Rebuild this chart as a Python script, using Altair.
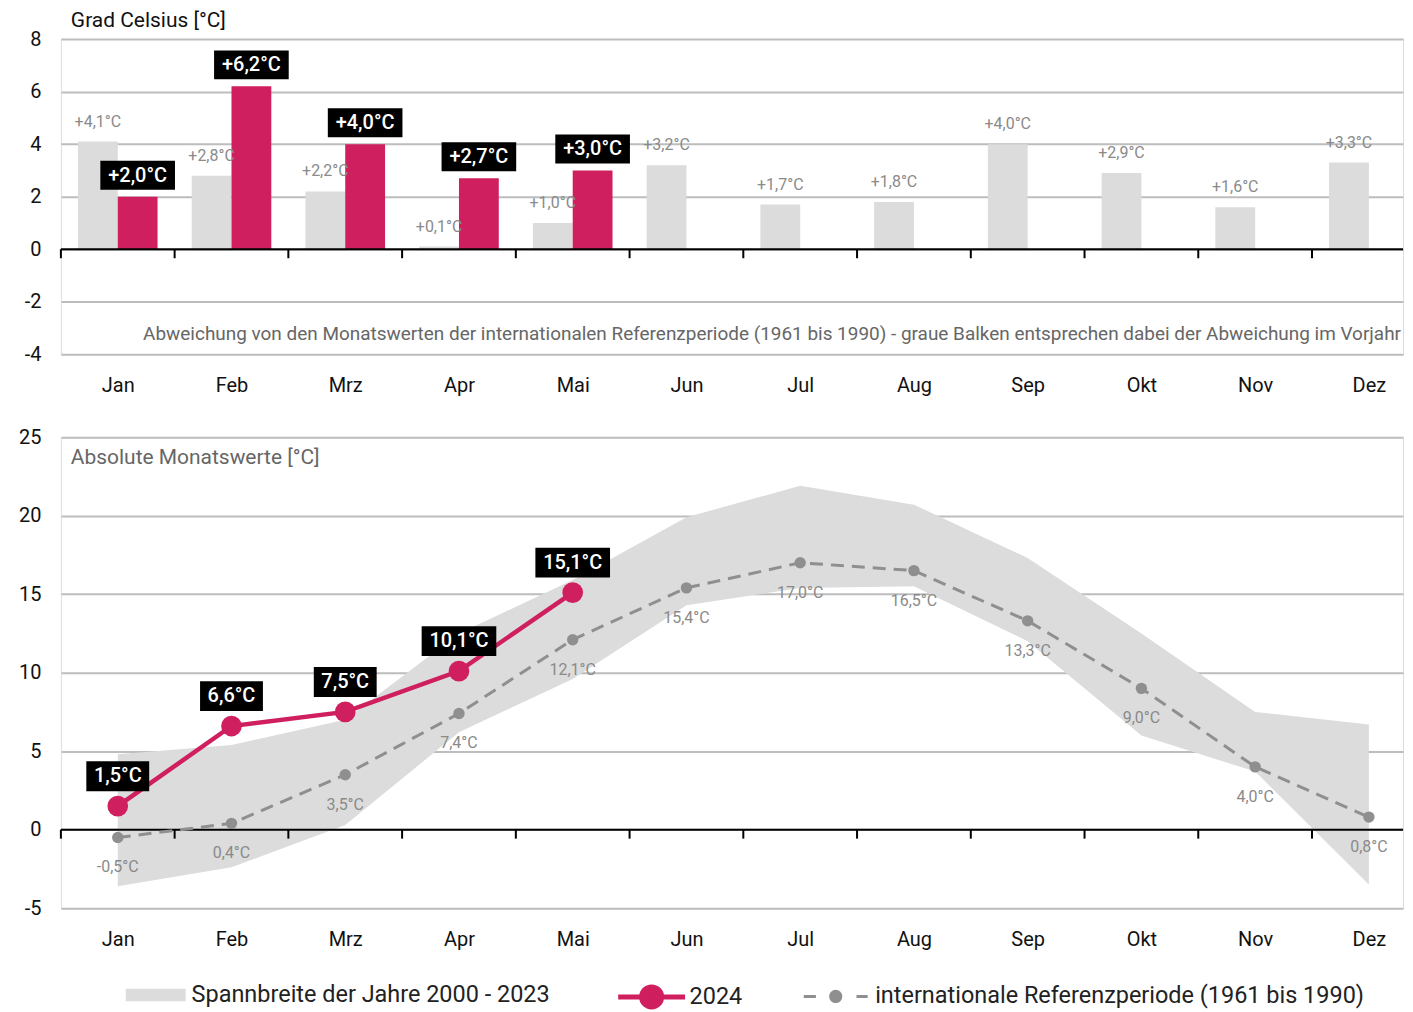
import altair as alt
import pandas as pd

# ---------------- data ----------------
months = ["Jan", "Feb", "Mrz", "Apr", "Mai", "Jun", "Jul", "Aug", "Sep", "Okt", "Nov", "Dez"]
dev_prev_year = [4.1, 2.8, 2.2, 0.1, 1.0, 3.2, 1.7, 1.8, 4.0, 2.9, 1.6, 3.3]
dev_2024 = [2.0, 6.2, 4.0, 2.7, 3.0]
abs_2024 = [1.5, 6.6, 7.5, 10.1, 15.1]
ref_1961_1990 = [-0.5, 0.4, 3.5, 7.4, 12.1, 15.4, 17.0, 16.5, 13.3, 9.0, 4.0, 0.8]
range_low = [-3.6, -2.4, 0.3, 6.2, 9.6, 14.3, 15.4, 15.5, 12.0, 6.0, 3.7, -3.5]
range_high = [4.8, 5.4, 7.0, 12.5, 15.9, 19.9, 21.9, 20.7, 17.3, 12.5, 7.5, 6.7]
top_ticks = [-4, -2, 0, 2, 4, 6, 8]
bottom_ticks = [-5, 0, 5, 10, 15, 20, 25]

NAME_BAND = "Spannbreite der Jahre 2000 - 2023"
NAME_2024 = "2024"
NAME_REF = "internationale Referenzperiode (1961 bis 1990)"
TITLE_TOP = "Grad Celsius [°C]"
NOTE_TOP = ("Abweichung von den Monatswerten der internationalen Referenzperiode (1961 bis 1990) - "
            "graue  Balken entsprechen dabei der Abweichung im Vorjahr")
NOTE_BOTTOM = "Absolute Monatswerte [°C]"

# ---------------- style ----------------
FONT = "Roboto"
PINK = "#cf1f5e"
BAR_GRAY = "#dcdcdc"
REF_GRAY = "#8f8f8f"
BG = "#efefef"
GRID = "#bdbdbd"
W = 1345
H_TOP = 316
H_BOT = 472
X_DOMAIN = [-0.5, 11.3]
UNIT = W / (X_DOMAIN[1] - X_DOMAIN[0])  # pixels per month
HALF_BAR = 0.35


def de(v, sign=False):
    s = f"{v:+.1f}" if sign else f"{v:.1f}"
    return s.replace(".", ",") + "°C"


idx = list(range(len(months)))
month_expr = "[" + ",".join(f"'{m}'" for m in months) + "][datum.value]"

x_scale = alt.Scale(domain=X_DOMAIN, nice=False, zero=False)
x_axis = alt.Axis(values=idx, labelExpr=month_expr, grid=False, ticks=False, domain=False,
                  labelPadding=21, labelFontSize=20, labelColor="#111", labelFont=FONT, title=None)


def X(field):
    return alt.X(field, type="quantitative", scale=x_scale, axis=x_axis)


def y_enc(field, domain, ticks):
    return alt.Y(field, type="quantitative",
                 scale=alt.Scale(domain=domain, nice=False, zero=False),
                 axis=alt.Axis(values=ticks, labelExpr="'' + datum.value", grid=True, gridColor=GRID,
                               gridWidth=2, ticks=False, domain=False, labelPadding=20,
                               labelFontSize=20, labelColor="#111", labelFont=FONT, title=None))


# ---------------- top panel: deviations ----------------
TOP_DOM = [top_ticks[0], top_ticks[-1]]
prev_df = pd.DataFrame({"idx": idx, "val": dev_prev_year,
                        "label": [de(v, True) for v in dev_prev_year]})
prev_df["x0"] = prev_df["idx"] - HALF_BAR
prev_df["xc"] = prev_df["idx"] - HALF_BAR / 2

cur_df = pd.DataFrame({"idx": idx[:len(dev_2024)], "val": dev_2024,
                       "label": [de(v, True) for v in dev_2024]})
cur_df["x1"] = cur_df["idx"] + HALF_BAR
cur_df["xc"] = cur_df["idx"] + HALF_BAR / 2

bounds_df = pd.DataFrame({"b": [i - 0.5 for i in idx]})
zero_df = pd.DataFrame({"z": [0]})

yt = lambda f: y_enc(f, TOP_DOM, top_ticks)

prev_bars = alt.Chart(prev_df).mark_rect(color=BAR_GRAY).encode(
    x=X("x0"), x2="idx:Q", y=yt("val"), y2=alt.datum(0))
prev_labels = alt.Chart(prev_df).mark_text(fontSize=16, color="#8a8a8a", font=FONT, dy=-20).encode(
    x=X("xc"), y=yt("val"), text="label:N")
cur_bars = alt.Chart(cur_df).mark_rect(color=PINK).encode(
    x=X("idx"), x2="x1:Q", y=yt("val"), y2=alt.datum(0))
cur_boxes = alt.Chart(cur_df).transform_calculate(
    hw=f"(length(datum.label) * 5.9 + 2) / {UNIT}"
).transform_calculate(
    bx0="datum.xc - datum.hw", bx1="datum.xc + datum.hw"
).mark_rect(color="black", yOffset=-7, y2Offset=-36).encode(
    x=X("bx0:Q"), x2="bx1:Q", y=yt("val"), y2="val:Q")
cur_labels = alt.Chart(cur_df).mark_text(fontSize=20, fontWeight=500, color="white", font=FONT,
                                         dy=-21).encode(
    x=X("xc"), y=yt("val"), text="label:N")
zero_top = alt.Chart(zero_df).mark_rule(color="black", strokeWidth=2).encode(y=yt("z"))
ticks_top = alt.Chart(bounds_df).mark_rule(color="black", strokeWidth=2, y2Offset=9).encode(
    x=X("b"), y=alt.datum(0), y2=alt.datum(0))
note_top = alt.Chart(pd.DataFrame({"t": [NOTE_TOP]})).mark_text(
    align="right", baseline="middle", fontSize=19, color="#666", font=FONT).encode(
    x=alt.value(W - 2), y=alt.datum(-3.23), text="t:N")

top = alt.layer(prev_bars, cur_bars, zero_top, ticks_top, prev_labels, cur_boxes, cur_labels,
                note_top).properties(
    width=W, height=H_TOP,
    title=alt.TitleParams(TITLE_TOP, anchor="start", frame="group", fontSize=21,
                          fontWeight="normal", color="#111", font=FONT, offset=-2, dx=10))

# ---------------- bottom panel: absolute values ----------------
BOT_DOM = [bottom_ticks[0], bottom_ticks[-1]]
yb = lambda f: y_enc(f, BOT_DOM, bottom_ticks)

band_df = pd.DataFrame({"idx": idx, "lo": range_low, "hi": range_high, "series": NAME_BAND})
ref_df = pd.DataFrame({"idx": idx, "val": ref_1961_1990,
                       "label": [de(v) for v in ref_1961_1990], "series": NAME_REF})
abs_df = pd.DataFrame({"idx": idx[:len(abs_2024)], "val": abs_2024,
                       "label": [de(v) for v in abs_2024], "series": NAME_2024})

BAND_SYM = "M-1,-0.21L1,-0.21L1,0.21L-1,0.21Z"
PINK_SYM = "M-1,0L1,0M-0.3,0A0.3,0.3 0 1,0 0.3,0A0.3,0.3 0 1,0 -0.3,0Z"
REF_SYM = ("M-1,0L-0.62,0M0.65,0L1,0"
           "M-0.16,0A0.16,0.16 0 1,0 0.16,0A0.16,0.16 0 1,0 -0.16,0Z")

leg_common = dict(orient="none", direction="horizontal", title=None, labelFont=FONT,
                  labelFontSize=23.5, labelColor="#222", labelLimit=800)

fill_band = alt.Fill("series:N", scale=alt.Scale(domain=[NAME_BAND], range=[BAR_GRAY]),
                     legend=alt.Legend(legendX=65, legendY=928, symbolType=BAND_SYM,
                                       symbolSize=3600, symbolStrokeWidth=0, labelOffset=6,
                                       **leg_common))
color_2024 = alt.Color("series:N", scale=alt.Scale(domain=[NAME_2024], range=[PINK]),
                       legend=alt.Legend(legendX=556, legendY=924, symbolType=PINK_SYM,
                                         symbolSize=4489, symbolFillColor=PINK,
                                         symbolStrokeWidth=5, labelOffset=2, **leg_common))
stroke_ref = alt.Stroke("series:N", scale=alt.Scale(domain=[NAME_REF], range=[REF_GRAY]),
                        legend=alt.Legend(legendX=743, legendY=926, symbolType=REF_SYM,
                                          symbolSize=4096, symbolFillColor=REF_GRAY,
                                          symbolStrokeWidth=3, labelOffset=6, **leg_common))

band = alt.Chart(band_df).mark_area(opacity=1).encode(
    x=X("idx"), y=yb("lo"), y2="hi:Q", fill=fill_band)
zero_bot = alt.Chart(zero_df).mark_rule(color="black", strokeWidth=2).encode(y=yb("z"))
ticks_bot = alt.Chart(bounds_df).mark_rule(color="black", strokeWidth=2, y2Offset=9).encode(
    x=X("b"), y=alt.datum(0), y2=alt.datum(0))
ref_line = alt.Chart(ref_df).mark_line(strokeWidth=3, strokeDash=[13, 8]).encode(
    x=X("idx"), y=yb("val"), stroke=stroke_ref)
ref_pts = alt.Chart(ref_df).mark_circle(size=130, opacity=1, color=REF_GRAY).encode(
    x=X("idx"), y=yb("val"))
ref_labels = alt.Chart(ref_df).mark_text(fontSize=16, color="#8a8a8a", font=FONT, dy=30).encode(
    x=X("idx"), y=yb("val"), text="label:N")
cur_line = alt.Chart(abs_df).mark_line(strokeWidth=4.5).encode(
    x=X("idx"), y=yb("val"), color=color_2024)
cur_pts = alt.Chart(abs_df).mark_circle(size=430, opacity=1, color=PINK).encode(
    x=X("idx"), y=yb("val"))
abs_boxes = alt.Chart(abs_df).transform_calculate(
    hw=f"(length(datum.label) * 5.9 + 2) / {UNIT}"
).transform_calculate(
    bx0="datum.idx - datum.hw", bx1="datum.idx + datum.hw"
).mark_rect(color="black", yOffset=-15, y2Offset=-45).encode(
    x=X("bx0:Q"), x2="bx1:Q", y=yb("val"), y2="val:Q")
abs_labels = alt.Chart(abs_df).mark_text(fontSize=20, fontWeight=500, color="white", font=FONT,
                                         dy=-30).encode(
    x=X("idx"), y=yb("val"), text="label:N")
note_bot = alt.Chart(pd.DataFrame({"t": [NOTE_BOTTOM]})).mark_text(
    align="left", baseline="middle", fontSize=21, color="#666", font=FONT).encode(
    x=alt.value(10), y=alt.datum(23.65), text="t:N")

bottom = alt.layer(band, zero_bot, ticks_bot, ref_line, ref_pts, ref_labels, cur_line, cur_pts,
                   abs_boxes, abs_labels, note_bot).properties(width=W, height=H_BOT)

chart = alt.vconcat(top, bottom, spacing=30).resolve_scale(
    y="independent", color="shared", fill="shared", stroke="shared"
).resolve_legend(
    color="shared", fill="shared", stroke="shared"
).properties(
    padding={"left": 10, "top": 0, "right": 0, "bottom": 0}
).configure_view(fill=BG, stroke=None).configure(font=FONT)

chart.save("out.html", embed_options={"renderer": "svg", "actions": False})
